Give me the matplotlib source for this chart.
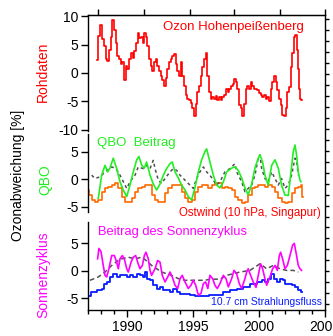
import matplotlib
matplotlib.use('Agg')
import matplotlib.pyplot as plt
import numpy as np

plt.rcParams['font.family'] = ['Liberation Sans', 'DejaVu Sans']
plt.rcParams['axes.unicode_minus'] = False

# ---------------- data ----------------
# Panel 1: Ozone raw data Hohenpeissenberg (deviation %)
raw_year = [1987.72, 1987.76, 1987.83, 1987.94, 1988.04, 1988.16, 1988.29, 1988.42, 1988.54, 1988.67,
            1988.80, 1988.92, 1989.05, 1989.18, 1989.30, 1989.43, 1989.56, 1989.68, 1989.81, 1989.94,
            1990.06, 1990.19, 1990.32, 1990.44, 1990.57, 1990.70, 1990.82, 1990.95, 1991.08, 1991.20,
            1991.33, 1991.45, 1991.58, 1991.71, 1991.83, 1991.96, 1992.09, 1992.21, 1992.34, 1992.47,
            1992.59, 1992.72, 1992.85, 1992.97, 1993.10, 1993.23, 1993.35, 1993.48, 1993.61, 1993.73,
            1993.86, 1993.99, 1994.11, 1994.24, 1994.37, 1994.49, 1994.62, 1994.74, 1994.87, 1995.00,
            1995.12, 1995.25, 1995.38, 1995.50, 1995.63, 1995.76, 1995.88, 1996.01, 1996.14, 1996.26,
            1996.39, 1996.52, 1996.64, 1996.77, 1996.90, 1997.02, 1997.15, 1997.28, 1997.40, 1997.53,
            1997.66, 1997.78, 1997.91, 1998.04, 1998.16, 1998.29, 1998.41, 1998.54, 1998.67, 1998.79,
            1998.92, 1999.05, 1999.17, 1999.30, 1999.43, 1999.55, 1999.68, 1999.81, 1999.93, 2000.06,
            2000.19, 2000.31, 2000.44, 2000.57, 2000.69, 2000.82, 2000.95, 2001.07, 2001.20, 2001.33,
            2001.45, 2001.58, 2001.70, 2001.83, 2001.96, 2002.08, 2002.21, 2002.34, 2002.46, 2002.59,
            2002.72, 2002.79, 2002.89, 2002.97, 2003.05, 2003.15, 2003.22]
raw_val = [2.2, 3.8, 6.5, 8.4, 8.4, 5.9, 4.7, 2.4, 2.1, 4.1,
           6.4, 9.3, 7.6, 5.3, 3.0, 2.4, 1.6, 1.9, -1.3, 1.3,
           0.7, 2.4, 3.6, 2.7, 3.8, 5.3, 7.0, 6.1, 6.4, 5.3,
           7.0, 6.4, 4.7, 2.4, 1.3, 0.4, 1.9, 2.4, 1.3, 0.4,
           -0.5, -1.3, -2.2, -0.9, 0.7, 1.9, 2.4, 3.0, 3.3, 1.6,
           0.4, -0.5, 1.9, -0.5, -2.2, -3.9, -4.5, -4.8, -5.3, -6.2,
           -7.6, -5.5, -3.3, -2.2, -0.5, 1.0, 2.4, 3.6, -0.5, -3.3,
           -4.5, -4.3, -4.5, -4.0, -4.7, -4.3, -4.7, -4.3, -3.8, -2.8,
           -3.3, -2.8, -2.2, -1.9, -1.0, -1.6, -2.8, -5.6, -6.1, -7.6,
           -5.5, -2.8, -2.2, -2.8, -1.6, -2.2, -2.8, -2.8, -3.0, -3.6,
           -3.8, -4.3, -3.8, -4.5, -4.3, -5.0, -2.8, -1.6, -0.5, -1.6,
           -3.0, -4.5, -5.6, -7.4, -7.6, -6.1, -3.3, -2.5, 1.0, 3.6,
           6.4, 6.7, 4.1, 0.7, -2.8, -4.5, -4.8]

# Panel 2: QBO contribution (green)
qbo_year = [1987.78, 1988.04, 1988.29, 1988.49, 1988.67, 1988.92, 1989.18, 1989.43, 1989.68, 1989.94,
            1990.19, 1990.44, 1990.70, 1990.87, 1991.08, 1991.28, 1991.45, 1991.71, 1991.96, 1992.21,
            1992.47, 1992.72, 1992.97, 1993.23, 1993.40, 1993.61, 1993.86, 1994.11, 1994.37, 1994.62,
            1994.87, 1995.12, 1995.38, 1995.63, 1995.88, 1996.01, 1996.26, 1996.52, 1996.77, 1997.02,
            1997.28, 1997.53, 1997.91, 1998.16, 1998.41, 1998.67, 1998.92, 1999.17, 1999.43, 1999.68,
            1999.93, 2000.06, 2000.26, 2000.44, 2000.69, 2000.95, 2001.20, 2001.45, 2001.70, 2001.96,
            2002.21, 2002.39, 2002.59, 2002.72, 2002.84, 2002.97, 2003.10, 2003.17]
qbo_val = [-3.5, 0.7, 2.5, 1.3, 2.0, 3.8, 1.9, -0.5, -2.0, -3.2,
           -1.1, 1.3, 3.5, 4.1, 2.5, 2.0, 3.1, 0.7, -0.9, -2.0,
           -0.9, 0.7, 1.9, 2.8, 3.1, 1.3, 0.2, -1.1, -2.0, -3.2,
           -3.8, -1.6, 1.3, 3.5, 5.0, 5.5, 3.1, 0.7, -1.1, -1.6,
           -0.5, 1.3, 2.0, 2.2, 1.6, 0.2, -1.6, -2.9, -0.9, 2.0,
           3.8, 4.4, 3.1, 0.7, -1.1, 2.5, 3.5, 2.0, -1.1, -2.9,
           -3.0, 0.7, 5.0, 6.2, 4.4, 1.3, -0.2, -0.5]

# Panel 2: ozone residual (grey dashed)
qres_year = [1987.28, 1987.53, 1987.91, 1988.29, 1988.80, 1989.05, 1989.30, 1989.56, 1989.94, 1990.19,
             1990.57, 1990.82, 1991.20, 1991.45, 1991.71, 1991.96, 1992.09, 1992.34, 1992.59, 1992.85,
             1993.23, 1993.48, 1993.73, 1993.99, 1994.24, 1994.49, 1994.74, 1995.00, 1995.25, 1995.50,
             1995.76, 1996.01, 1996.26, 1996.77, 1997.02, 1997.40, 1997.78, 1998.16, 1998.29, 1998.67,
             1998.92, 1999.17, 1999.43, 1999.68, 1999.93, 2000.06, 2000.19, 2000.44, 2000.69, 2000.95,
             2001.20, 2001.45, 2001.70, 2001.96, 2002.21, 2002.46, 2002.72, 2002.84, 2002.97]
qres_val = [0.7, 0.1, 0.4, 1.3, 2.2, 2.0, 1.3, 0.1, -1.7, -0.5,
            0.7, 2.2, 1.9, 2.5, 1.9, 3.4, 1.9, -0.2, -0.8, 0.1,
            1.3, 1.9, 1.6, 0.7, 0.1, -0.5, -1.1, -1.7, 0.1, 1.3,
            2.2, 1.3, 0.7, -1.1, -0.5, 1.3, 1.9, 2.8, 1.3, -0.5,
            -2.3, -1.7, -1.1, 0.7, 3.8, 4.4, 1.9, 0.1, -0.5, 1.3,
            0.1, -1.1, 0.1, -1.7, -1.1, 0.7, 3.8, 3.4, 0.7]

# Panel 2: east wind 10 hPa Singapore (orange, scaled)
wind_year = [1987.00, 1987.15, 1987.40, 1987.66, 1987.91, 1988.16, 1988.42, 1988.67, 1988.92, 1989.18,
             1989.43, 1989.68, 1989.94, 1990.19, 1990.44, 1990.70, 1990.95, 1991.20, 1991.45, 1991.71,
             1991.96, 1992.21, 1992.47, 1992.72, 1992.97, 1993.23, 1993.48, 1993.73, 1993.99, 1994.24,
             1994.49, 1994.74, 1995.00, 1995.25, 1995.50, 1995.76, 1996.01, 1996.26, 1996.52, 1996.77,
             1997.02, 1997.28, 1997.53, 1997.78, 1998.04, 1998.29, 1998.54, 1998.79, 1999.05, 1999.30,
             1999.55, 1999.81, 2000.06, 2000.31, 2000.57, 2000.82, 2001.07, 2001.33, 2001.58, 2001.83,
             2002.08, 2002.34, 2002.59, 2002.84, 2003.10, 2003.22, 2003.35]
wind_val = [-2.0, -2.9, -3.8, -4.1, -3.8, -2.3, -1.7, -1.4, -1.1, -0.8,
            -1.7, -3.2, -4.1, -4.1, -3.5, -2.3, -1.7, -1.4, -1.1, -1.1,
            -2.9, -3.8, -4.1, -4.1, -2.6, -1.7, -1.1, -1.0, -1.1, -2.3,
            -3.5, -4.1, -3.8, -2.3, -1.4, -1.1, -1.0, -1.7, -1.1, -0.8,
            -0.8, -1.7, -1.4, -1.7, -2.0, -3.2, -3.8, -4.4, -4.1, -2.9,
            -1.7, -1.4, -1.1, -1.1, -1.4, -1.1, -1.4, -2.3, -3.5, -4.1,
            -4.4, -4.1, -2.6, -1.7, -1.4, -1.1, -3.2]

# Panel 3: solar cycle contribution (magenta)
sun_year = [1987.73, 1987.83, 1987.99, 1988.16, 1988.29, 1988.42, 1988.59, 1988.80, 1989.00, 1989.18,
            1989.30, 1989.43, 1989.61, 1989.76, 1989.94, 1990.06, 1990.27, 1990.44, 1990.62, 1990.77,
            1990.95, 1991.13, 1991.28, 1991.40, 1991.58, 1991.71, 1991.83, 1992.09, 1992.29, 1992.47,
            1992.64, 1992.85, 1993.05, 1993.23, 1993.40, 1993.61, 1993.81, 1993.99, 1994.16, 1994.37,
            1994.62, 1994.82, 1995.00, 1995.18, 1995.38, 1995.58, 1995.76, 1995.93, 1996.10, 1996.26,
            1996.47, 1996.64, 1996.82, 1997.02, 1997.28, 1997.48, 1997.66, 1997.91, 1998.09, 1998.29,
            1998.49, 1998.67, 1998.92, 1999.05, 1999.17, 1999.35, 1999.55, 1999.76, 1999.93, 2000.11,
            2000.26, 2000.44, 2000.57, 2000.82, 2001.02, 2001.20, 2001.38, 2001.53, 2001.63, 2001.78,
            2001.96, 2002.14, 2002.34, 2002.54, 2002.67, 2002.84, 2002.97, 2003.10, 2003.22]
sun_val = [2.2, 4.1, 3.5, 1.0, -0.8, -1.1, 0.4, 2.8, 2.8, 1.6,
           0.4, 2.2, 2.8, 2.2, 0.4, -0.2, 1.6, 2.5, 2.8, 1.6,
           0.4, 1.0, 2.8, 3.4, 2.2, 0.1, -0.8, 0.4, 1.9, 1.6,
           -0.8, -2.0, -1.1, -0.2, -1.1, -2.6, -3.2, -1.4, -0.8, -2.0,
           -3.2, -2.6, -1.7, -2.6, -4.4, -4.1, -2.3, -2.0, -3.2, -0.8,
           -1.4, -2.6, -3.2, -2.3, -0.8, -1.4, -2.9, -1.4, 0.1, -0.5,
           -2.3, -3.2, -1.4, -0.2, 0.4, -0.8, -2.0, -3.0, -0.8, 1.3,
           0.4, -1.4, -2.6, -1.1, 0.4, 1.0, 0.1, 2.8, 3.4, 2.2,
           0.4, 1.0, 2.8, 4.7, 5.0, 2.8, 1.0, 0.4, 0.1]

# Panel 3: 10.7 cm radio flux (blue, scaled)
flux_year = [1987.00, 1987.53, 1987.91, 1988.16, 1988.29, 1988.54, 1988.80, 1989.05, 1989.30, 1989.56,
             1989.81, 1990.06, 1990.32, 1990.57, 1990.82, 1991.08, 1991.28, 1991.45, 1991.58, 1991.83,
             1992.09, 1992.34, 1992.59, 1992.85, 1993.10, 1993.35, 1993.61, 1993.86, 1994.11, 1994.37,
             1994.62, 1994.87, 1995.38, 1995.88, 1996.52, 1997.02, 1997.53, 1998.04, 1998.54, 1999.05,
             1999.55, 2000.06, 2000.31, 2000.57, 2000.82, 2001.02, 2001.20, 2001.45, 2001.70, 2001.88,
             2002.08, 2002.34, 2002.59, 2002.84, 2003.10, 2003.22]
flux_val = [-4.5, -3.8, -3.5, -3.2, -2.3, -2.0, -1.1, -0.5, -1.1, -0.8,
            -0.8, -1.1, -0.8, -1.1, -0.5, -0.8, -1.1, -0.2, -1.4, -1.7,
            -2.6, -3.2, -2.9, -3.5, -3.5, -3.8, -3.2, -3.8, -4.1, -4.1,
            -4.1, -4.4, -4.6, -4.5, -4.4, -4.3, -3.9, -3.5, -3.2, -2.9,
            -2.3, -2.0, -1.7, -2.0, -1.4, -0.5, -1.4, -2.0, -1.4, -1.7,
            -2.3, -2.3, -2.6, -2.9, -3.5, -3.8]

# Panel 3: ozone residual (grey dashed)
sres_year = [1987.15, 1987.78, 1988.29, 1988.80, 1989.30, 1989.56, 1990.06, 1990.57, 1991.08, 1991.58,
             1991.83, 1992.59, 1993.35, 1993.86, 1994.37, 1995.12, 1995.88, 1996.26, 1997.02, 1997.53,
             1998.04, 1998.54, 1999.30, 2000.06, 2000.57, 2001.07, 2001.58, 2002.08, 2002.59, 2002.97]
sres_val = [-1.7, -1.1, -0.2, 1.0, 1.9, 2.2, 2.5, 2.2, 2.5, 1.6,
            1.0, -0.2, -0.8, -1.4, -1.7, -1.7, -1.7, -1.5, -1.5, -0.8,
            -0.5, -0.2, 0.1, 1.3, 0.4, 1.0, 0.4, 0.1, 0.1, -0.2]

year_ticks = [1990, 1995, 2000, 2005]
year_labels = ['1990', '1995', '2000', '2005']
p1_ticks = [-10, -5, 0, 5, 10]
p23_ticks = [-5, 0, 5]

# ---------------- figure ----------------
W, H = 333, 336
fig = plt.figure(figsize=(W / 100, H / 100), dpi=100)
fig.patch.set_facecolor('white')


def rect(x0, y0, x1, y1):
    return [x0 / W, 1 - y1 / H, (x1 - x0) / W, (y1 - y0) / H]


XL, XR = 88, 325
XLIM = (1987, 2005)

frame = fig.add_axes(rect(XL, 15, XR, 310))
frame.set_xlim(XLIM)
frame.set_ylim(0, 1)
frame.set_facecolor('none')
frame.spines['left'].set_visible(False)
for s in frame.spines.values():
    s.set_linewidth(1.0)
frame.set_xticks(year_ticks)
frame.set_xticklabels(year_labels)
frame.set_xticks(np.arange(1987, 2006, 1), minor=True)
frame.tick_params(axis='x', which='major', direction='out', length=5, width=1, labelsize=10, pad=2)
frame.tick_params(axis='x', which='minor', direction='out', length=3, width=1)
frame.yaxis.tick_right()
frame.set_yticks(np.linspace(0.985, 0.02, 27))
frame.tick_params(axis='y', which='major', direction='out', length=3, width=1, labelright=False)
top = frame.secondary_xaxis('top')
top.set_xticks([1987.74, 1991.26, 1994.78, 1998.1, 2001.58, 2005.0])
top.tick_params(direction='out', length=4, width=1, labeltop=False)


def panel(y0, y1, ylim, ticks):
    ax = fig.add_axes(rect(XL, y0, XR, y1))
    ax.set_facecolor('none')
    ax.set_xlim(XLIM)
    ax.set_ylim(*ylim)
    for k in ('top', 'right', 'bottom'):
        ax.spines[k].set_visible(False)
    ax.spines['left'].set_linewidth(1.0)
    ax.set_xticks([])
    ax.set_yticks(ticks)
    ax.set_yticklabels([str(t) for t in ticks])
    ax.tick_params(axis='y', direction='out', length=5, width=1, labelsize=10, pad=2)
    return ax


ax1 = panel(15, 131, (-10.2, 10.2), p1_ticks)
ax2 = panel(134, 212, (-6.0, 8.2), p23_ticks)
ax3 = panel(222, 310, (-7.1, 8.9), p23_ticks)

RED = '#ff0000'
GREEN = '#22ee22'
ORANGE = '#ff6a00'
MAG = '#ff00ff'
BLUE = '#0a1cff'
GREY = '#505050'

ax1.plot(raw_year, raw_val, color=RED, lw=1.2, drawstyle='steps-mid')

ax2.plot(wind_year, wind_val, color=ORANGE, lw=1.2, drawstyle='steps-mid')
ax2.plot(qres_year, qres_val, color=GREY, lw=1.1, ls=(0, (2, 2)))
ax2.plot(qbo_year, qbo_val, color=GREEN, lw=1.2)

ax3.plot(sres_year, sres_val, color=GREY, lw=1.1, ls=(0, (3, 2)))
ax3.plot(flux_year, flux_val, color=BLUE, lw=1.3, drawstyle='steps-mid')
ax3.plot(sun_year, sun_val, color=MAG, lw=1.2)


def ftext(x, y, s, **kw):
    fig.text(x / W, 1 - y / H, s, **kw)


ftext(233, 27, 'Ozon Hohenpeißenberg', color=RED, fontsize=9.5, ha='center', va='center')
ftext(97, 143, 'QBO  Beitrag', color=GREEN, fontsize=9.5, ha='left', va='center')
ftext(321, 213, 'Ostwind (10 hPa, Singapur)', color=RED, fontsize=8.3, ha='right', va='center')
ftext(98, 232, 'Beitrag des Sonnenzyklus', color=MAG, fontsize=9.3, ha='left', va='center')
ftext(322, 302, '10.7 cm Strahlungsfluss', color=BLUE, fontsize=7.5, ha='right', va='center')

ftext(43, 72, 'Rohdaten', color=RED, fontsize=10, rotation=90, ha='center', va='center')
ftext(45, 180, 'QBO', color=GREEN, fontsize=10, rotation=90, ha='center', va='center')
ftext(43, 275, 'Sonnenzyklus', color=MAG, fontsize=10, rotation=90, ha='center', va='center')
ftext(18, 175, 'Ozonabweichung [%]', color='black', fontsize=10, rotation=90, ha='center', va='center')

fig.savefig('out.png', dpi=100)
